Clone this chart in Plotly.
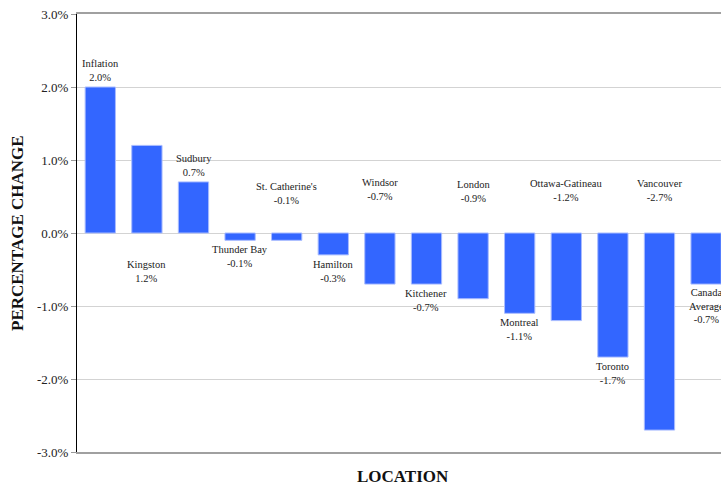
import plotly.graph_objects as go

# Year-over-year change by location (percent)
locations = ["Inflation", "Kingston", "Sudbury", "Thunder Bay", "St. Catherine's",
             "Hamilton", "Windsor", "Kitchener", "London", "Montreal",
             "Ottawa-Gatineau", "Toronto", "Vancouver", "Canada Average"]
changes = [2.0, 1.2, 0.7, -0.1, -0.1, -0.3, -0.7, -0.7, -0.9, -1.1, -1.2, -1.7, -2.7, -0.7]

# Label text (name lines) and vertical placement of each data label (in axis units)
label_names = ["Inflation", "Kingston", "Sudbury", "Thunder Bay", "St. Catherine's",
               "Hamilton", "Windsor", "Kitchener", "London", "Montreal",
               "Ottawa-Gatineau", "Toronto", "Vancouver", "Canada<br>Average"]
label_y = [2.23, -0.53, 0.92, -0.32, 0.54, -0.53, 0.60, -0.93, 0.57, -1.32,
           0.58, -1.93, 0.58, -1.0]

y_ticks = [3.0, 2.0, 1.0, 0.0, -1.0, -2.0, -3.0]

SERIF = "Georgia, Liberation Serif, serif"

fig = go.Figure()
fig.add_trace(go.Bar(
    x=locations,
    y=changes,
    width=0.65,
    marker=dict(color="#3366ff", line=dict(color="#a9bcff", width=1)),
    hoverinfo="x+y",
))

annotations = []
for i, (name, val, ly) in enumerate(zip(label_names, changes, label_y)):
    annotations.append(dict(
        x=i, y=ly, xref="x", yref="y",
        text=f"{name}<br>{val:.1f}%",
        showarrow=False, xanchor="center", yanchor="middle",
        font=dict(family=SERIF, size=10.5, color="#222"),
    ))

# Axis titles, placed in pixels and converted to paper coordinates below
titles = [
    dict(x=403, y=476, text="<b>LOCATION</b>", showarrow=False,
         font=dict(family=SERIF, size=17, color="#111")),
    dict(x=17, y=233, text="<b>PERCENTAGE CHANGE</b>", showarrow=False, textangle=-90,
         font=dict(family=SERIF, size=17, color="#111")),
]

W, H = 721, 487
ML, MR, MT, MB = 77, 0, 14, 35
pw, ph = W - ML - MR, H - MT - MB
for a in titles:
    a["xref"] = "paper"
    a["yref"] = "paper"
    a["x"] = (a["x"] - ML) / pw
    a["y"] = (H - MB - a["y"]) / ph
    a["xanchor"] = "center"
    a["yanchor"] = "middle"
annotations.extend(titles)

fig.update_layout(
    width=W, height=H,
    margin=dict(l=ML, r=MR, t=MT, b=MB),
    plot_bgcolor="white", paper_bgcolor="white",
    showlegend=False,
    annotations=annotations,
    xaxis=dict(
        type="category",
        range=[-0.5, 13.32],
        showticklabels=False,
        ticks="",
        showgrid=False,
        showline=True, linecolor="#a0a0a0", linewidth=1.5, mirror=True,
        zeroline=False,
    ),
    yaxis=dict(
        range=[-3.0, 3.0],
        tickvals=y_ticks,
        ticktext=[f"{v:.1f}%" for v in y_ticks],
        tickfont=dict(family=SERIF, size=13, color="#222"),
        ticks="outside", ticklen=5, tickcolor="#999",
        showgrid=True, gridcolor="#d3d3d3", gridwidth=1,
        zeroline=False,
        showline=True, linecolor="black", linewidth=1,
    ),
)

fig.write_html("out.html")
